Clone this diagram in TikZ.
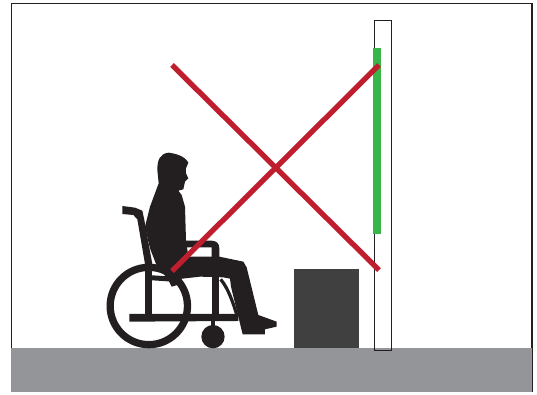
\documentclass[tikz,border=0pt]{standalone}
\definecolor{ink}{HTML}{231F20}
\definecolor{floorgray}{HTML}{939598}
\definecolor{boxgray}{HTML}{404040}
\definecolor{signgreen}{HTML}{39B54A}
\definecolor{crossred}{HTML}{BE1E2D}
\tikzset{
  px/.style={x=1pt,y=-1pt},
  frameline/.style={draw=ink,line width=1.5pt},
  panelline/.style={draw=ink,line width=1pt},
  crossline/.style={draw=crossred,line width=5.3pt},
  silhouette/.style={fill=ink,draw=none},
  tube/.style={draw=ink,line cap=butt}
}
\begin{document}
\begin{tikzpicture}[px]
\useasboundingbox (0,0) rectangle (537,394);
\draw[frameline] (11.5,348) -- (11.5,3.5) -- (532,3.5) -- (532,392);
\fill[floorgray] (11,348) rectangle (532,392);
\fill[boxgray] (294,269) rectangle (359,348);
\draw[panelline] (374,20.5) rectangle (391.5,350);
\fill[signgreen] (373,48) rectangle (381,234);
\begin{scope}[shift={(100,140)},x=0.3333pt,y=-0.3333pt]
  % wheel
  \draw[tube,line width=7.3pt] (146.5,498) circle (116);
  % frame
  \draw[tube,line width=7pt] (147,385) -- (147,530);
  \draw[tube,line width=7pt] (348,340) -- (348,530);
  \draw[tube,line width=4pt] (339,540) -- (339,565);
  \fill[ink] (339,590) circle (35);
  \fill[ink] (88,522) -- (415,522) -- (415,543) -- (88,545) -- cycle;
  \fill[ink] (67,198) -- (105,203) -- (127,212) -- (133,240) -- (157,372) -- (135,372) -- (112,238) -- (100,225) -- (67,222) -- cycle;
  \draw[tube,line width=5pt] (150,413) -- (225,418);
  \draw[tube,line width=3.2pt] (362,418) .. controls (385,445) and (400,490) .. (412,530);
  % armrest
  \fill[ink] (250,302) -- (335,302) .. controls (350,303) and (358,310) .. (358,325) -- (358,352) -- (335,352) -- (335,322) -- (250,322) -- cycle;
  % person
  \fill[silhouette] (172,90) .. controls (172,62) and (178,42) .. (205,38)
    .. controls (225,40) and (255,48) .. (265,68) -- (258,85) -- (258,100) -- (265,115)
    -- (255,125) -- (250,148) -- (235,152) -- (245,165) -- (255,200) -- (258,300)
    -- (265,350) -- (358,350) -- (430,365) -- (440,382) -- (475,525) -- (530,545) -- (530,560)
    -- (495,568) -- (495,583) -- (428,583) -- (393,440) -- (390,416) -- (370,412)
    -- (300,410) -- (230,418) -- (232,435) -- (215,440) -- (205,420) -- (168,372)
    -- (150,325) -- (135,260) -- (150,200) -- (176,130) -- cycle;
\end{scope}
\coordinate (cA) at (172,65);
\coordinate (cB) at (379,270);
\coordinate (cC) at (172,271);
\coordinate (cD) at (379,65);
\draw[crossline] (cA) -- (cB);
\draw[crossline] (cC) -- (cD);
\end{tikzpicture}
\end{document}
